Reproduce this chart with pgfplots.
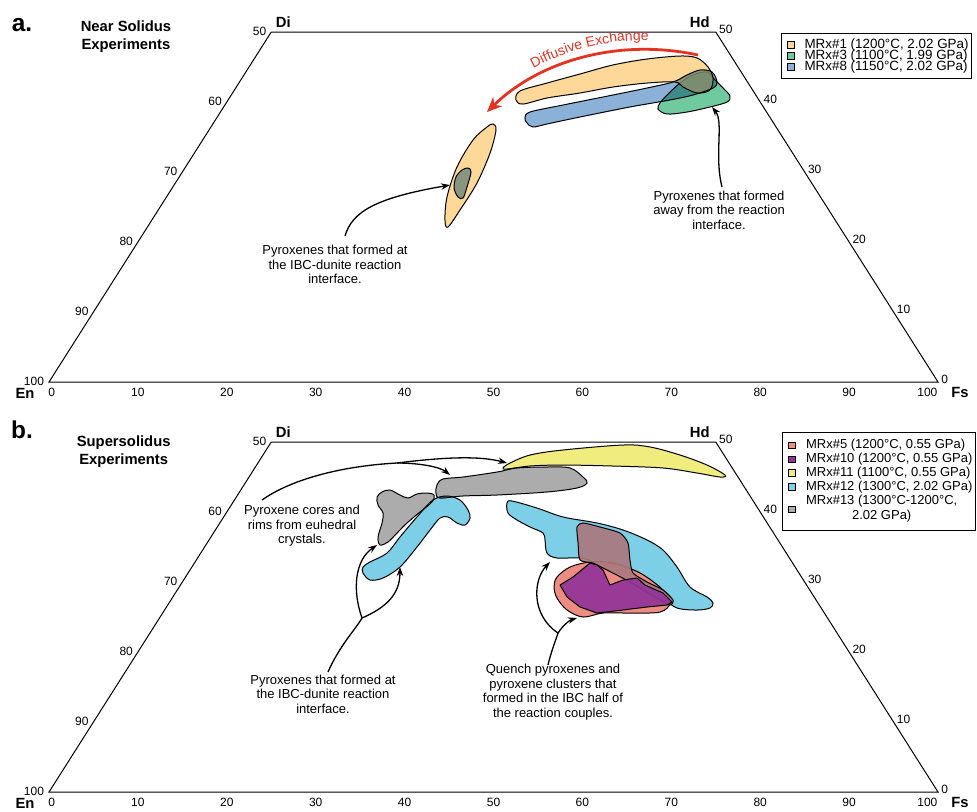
\documentclass[border=0pt]{standalone}
\usepackage{pgfplots}
\pgfplotsset{compat=1.18}
\usepackage{fontspec}
\setmainfont{Liberation Sans}
\usetikzlibrary{arrows.meta,decorations.text}

\definecolor{cOr}{RGB}{253,216,152}
\definecolor{cOrB}{RGB}{253,206,126}
\definecolor{cGr}{RGB}{112,202,160}
\definecolor{cBl}{RGB}{140,177,216}
\definecolor{cSa}{RGB}{238,140,130}
\definecolor{cPu}{RGB}{146,52,152}
\definecolor{cYe}{RGB}{240,236,126}
\definecolor{cCy}{RGB}{124,207,230}
\definecolor{cGy}{RGB}{172,172,172}
\definecolor{cMa}{RGB}{170,120,125}
\definecolor{cRed}{RGB}{228,50,35}

\newcommand{\fs}[1]{\fontsize{#1}{#1}\selectfont}

\pgfplotsset{
  tern/.style={x=4.445pt, y=3.5pt, xmin=0, xmax=100, ymin=0, ymax=50,
    enlargelimits=false, hide axis, clip=false, anchor=south west,
    legend image code/.code={\draw[##1,draw=black,line width=0.4pt] (0pt,-1.6pt) rectangle (3.2pt,1.6pt); \path (-1.6pt,0pt) (8.2pt,0pt);},
    legend style={draw=black, line width=0.5pt, inner xsep=1.4pt,
      cells={anchor=west}, row sep=0pt}},
  blob/.style={draw=black, line width=0.5pt, smooth cycle, tension=0.55, blend mode=multiply, forget plot},
  nblob/.style={draw=black, line width=0.5pt, smooth cycle, tension=0.55, forget plot},
  pblob/.style={draw=black, line width=0.5pt, line join=round, fill opacity=0.92, forget plot},
}
\tikzset{
  lbl/.style={font=\fs{6}, inner sep=0pt},
  llab/.style={lbl, anchor=east, xshift=-2.3pt, yshift=0.5pt},
  rlab/.style={lbl, anchor=west, xshift=1.5pt, yshift=1.5pt},
  blab/.style={lbl, yshift=-5pt},
  corner/.style={font=\bfseries\fs{7.4}, inner sep=0pt},
  ann/.style={font=\fontsize{6.5}{7.25}\selectfont, align=center, inner sep=0pt},
  arr/.style={-{Stealth[length=4.5pt,width=3.2pt]}, line width=0.65pt, black},
}

\newcommand{\ternframe}{%
  \addplot[black, line width=0.5pt, line join=miter, forget plot] coordinates {(25,50) (0,0) (100,0) (75,50) (25,50)};
  \node[llab] at (axis cs:0,0) {100};
  \node[llab] at (axis cs:5,10) {90};
  \node[llab] at (axis cs:10,20) {80};
  \node[llab] at (axis cs:15,30) {70};
  \node[llab] at (axis cs:20,40) {60};
  \node[llab] at (axis cs:25,50) {50};
  \node[rlab] at (axis cs:100,0) {0};
  \node[rlab] at (axis cs:95,10) {10};
  \node[rlab] at (axis cs:90,20) {20};
  \node[rlab] at (axis cs:85,30) {30};
  \node[rlab] at (axis cs:80,40) {40};
  \node[rlab] at (axis cs:75,50) {50};
  \node[blab] at (axis cs:0.3,0) {0};
  \node[blab] at (axis cs:10,0) {10};
  \node[blab] at (axis cs:20,0) {20};
  \node[blab] at (axis cs:30,0) {30};
  \node[blab] at (axis cs:40,0) {40};
  \node[blab] at (axis cs:50,0) {50};
  \node[blab] at (axis cs:60,0) {60};
  \node[blab] at (axis cs:70,0) {70};
  \node[blab] at (axis cs:80,0) {80};
  \node[blab] at (axis cs:90,0) {90};
  \node[blab] at (axis cs:98.8,0) {100};
  \node[corner, xshift=6pt, yshift=5pt] at (axis cs:25,50) {Di};
  \node[corner, xshift=-8pt, yshift=5pt] at (axis cs:75,50) {Hd};
  \node[corner, xshift=-12pt, yshift=-5.5pt] at (axis cs:0,0) {En};
  \node[corner, xshift=11pt, yshift=-5pt] at (axis cs:100,0) {Fs};
}

\begin{document}
\begin{tikzpicture}
\useasboundingbox (0pt,0pt) rectangle (488.5pt,-405.5pt);

% ---------------- panel a ----------------
\begin{axis}[tern, at={(24.5pt,-191pt)},
  legend style={at={(0.823,0.998)}, anchor=north west, font=\fs{6.7}, inner ysep=3pt,
    nodes={inner sep=0pt, text height=4.8pt, text depth=0.7pt}}]
\addlegendimage{fill=cOr}\addlegendentry{MRx\#1 (1200°C, 2.02 GPa)}
\addlegendimage{fill=cGr}\addlegendentry{MRx\#3 (1100°C, 1.99 GPa)}
\addlegendimage{fill=cBl}\addlegendentry{MRx\#8 (1150°C, 2.02 GPa)}

% MRx#3
\addplot[nblob, fill=cGr] coordinates {(68.73,39.86) (69.52,41.0) (70.98,42.71) (72.44,43.86) (74.02,44.29) (74.92,43.14) (75.82,42.0) (76.6,40.86) (76.27,40.0) (74.35,39.29) (71.77,38.57) (69.52,38.29) (68.5,39.0)};
% MRx#1
\addplot[nblob, fill=cOrB, fill opacity=0.8] coordinates {(52.53,40.29) (52.98,41.57) (56.02,42.71) (59.73,44.0) (63.44,45.29) (67.27,46.14) (70.98,46.57) (72.89,46.29) (74.13,45.0) (74.69,43.43) (74.35,41.71) (72.89,41.29) (71.32,42.14) (70.42,42.86) (67.27,42.71) (63.44,42.14) (59.73,41.29) (56.02,40.57) (53.32,39.71)};
\addplot[nblob, fill=cOr] coordinates {(49.94,36.86) (50.28,36.0) (49.61,32.71) (48.14,28.43) (46.23,24.57) (44.88,22.14) (44.54,23.14) (44.77,26.43) (45.89,30.71) (47.69,34.57) (49.27,36.43)};
% MRx#8
\addplot[blob, fill=cBl] coordinates {(53.54,37.71) (54.11,38.57) (57.82,39.57) (63.44,41.0) (67.27,42.0) (70.19,42.86) (71.77,43.86) (73.23,44.57) (74.58,44.29) (75.14,42.86) (74.69,42.0) (72.44,41.0) (69.85,40.29) (65.35,39.29) (59.73,37.86) (56.02,36.86) (54.44,36.43) (53.77,37.0)};
\addplot[blob, fill=cBl] coordinates {(47.13,30.57) (47.47,30.0) (47.02,27.86) (46.57,26.29) (46.01,26.43) (45.56,27.71) (45.78,29.29) (46.46,30.29)};

\ternframe
\node[font=\bfseries\fs{12.2}, inner sep=0pt] at (axis cs:-3.04,51.0) {a.};
\node[font=\bfseries\fontsize{7.4}{9}\selectfont, align=center, inner sep=0pt] at (axis cs:8.66,49.3) {Near Solidus\\Experiments};

\node[ann] at (axis cs:32.17,16.79) {Pyroxenes that formed at\\the IBC-dunite reaction\\interface.};
\node[ann] at (axis cs:75.37,24.57) {Pyroxenes that formed\\away from the reaction\\interface.};
\draw[arr] (axis cs:33.3,20.86) .. controls (axis cs:34.08,24.29) and (axis cs:36.67,26.29) .. (axis cs:45.11,28.14);
\draw[arr] (axis cs:75.7,27.86) .. controls (axis cs:74.8,32.43) and (axis cs:75.93,37.14) .. (axis cs:74.58,39.29);

\draw[cRed, line width=1.4pt, -{Stealth[length=7.5pt,width=6.5pt]}] (axis cs:73.0,46.71) .. controls (axis cs:64.23,49.14) and (axis cs:55.23,46.0) .. (axis cs:49.27,38.57);
\path[decorate, decoration={text along path, text align={left indent=29pt},
  text={|\fs{7}\color{cRed}|Diffusive Exchange}}]
  (axis cs:49.27,39.86) .. controls (axis cs:55.23,47.29) and (axis cs:64.23,50.43) .. (axis cs:73.0,48.0);
\end{axis}

% ---------------- panel b ----------------
\begin{axis}[tern, at={(24.5pt,-396pt)},
  legend style={at={(0.824,1.0286)}, anchor=north west, font=\fs{6.5}, inner ysep=3pt, row sep=0.2pt,
    nodes={inner sep=0.3pt, text height=4.8pt, text depth={}}}]
\addlegendimage{fill=cSa}\addlegendentry{MRx\#5 (1200°C, 0.55 GPa)}
\addlegendimage{fill=cPu}\addlegendentry{MRx\#10 (1200°C, 0.55 GPa)}
\addlegendimage{fill=cYe}\addlegendentry{MRx\#11 (1100°C, 0.55 GPa)}
\addlegendimage{fill=cCy}\addlegendentry{MRx\#12 (1300°C, 2.02 GPa)}
\addlegendimage{fill=cGy}\addlegendentry{\fontsize{6.5}{7.5}\selectfont\begin{tabular}[t]{@{}c@{}}MRx\#13 (1300°C-1200°C,\\2.02 GPa)\end{tabular}}

% MRx#12
\addplot[blob, fill=cCy] coordinates {(35.32,32.14) (36.11,32.86) (38.02,34.14) (39.48,36.43) (41.39,39.29) (43.19,41.71) (44.77,42.29) (46.23,41.71) (47.13,40.29) (47.36,39.14) (46.79,38.14) (45.89,38.43) (44.88,39.29) (43.98,39.14) (42.86,37.43) (41.39,35.0) (39.48,32.14) (37.57,30.57) (36.11,30.29) (35.32,31.29)};
\addplot[blob, fill=cCy] coordinates {(51.52,41.29) (52.08,41.57) (54.89,40.57) (57.82,39.29) (61.64,38.43) (64.57,37.43) (67.27,36.0) (69.07,34.57) (70.64,32.14) (72.1,29.29) (74.02,27.86) (74.69,27.0) (74.35,26.29) (72.89,26.0) (70.64,26.29) (69.07,27.71) (67.27,29.29) (64.57,30.71) (61.64,32.71) (59.73,33.43) (57.14,33.43) (56.02,34.14) (55.79,36.0) (55.57,37.0) (54.11,37.86) (52.64,38.86) (51.63,39.86)};
% MRx#13
\addplot[blob, fill=cGy] coordinates {(36.9,42.14) (37.46,42.86) (38.36,43.14) (39.48,42.43) (40.38,42.0) (41.39,42.57) (42.52,42.71) (43.31,42.43) (43.08,41.43) (41.73,40.0) (40.27,38.43) (39.15,37.0) (38.13,35.71) (37.23,35.29) (37.01,36.43) (37.46,38.43) (37.57,39.86) (37.01,41.0)};
\addplot[blob, fill=cGy] coordinates {(43.64,43.86) (44.32,44.71) (46.57,45.0) (50.39,45.71) (52.64,46.29) (56.02,46.43) (58.61,46.29) (60.07,45.0) (60.52,44.14) (59.39,43.43) (56.02,42.86) (50.39,42.43) (46.57,42.29) (43.98,42.0) (43.53,42.71)};
% MRx#11
\addplot[blob, fill=cYe] coordinates {(51.07,46.29) (51.86,47.0) (54.11,48.14) (57.82,48.86) (64.57,49.57) (67.6,49.29) (70.98,48.14) (74.02,46.71) (76.04,45.29) (75.48,45.0) (72.89,45.57) (69.07,46.29) (63.44,46.57) (57.82,46.71) (54.11,46.57) (51.52,46.14)};
% MRx#5
\addplot[nblob, fill=cSa] coordinates {(57.14,30.71) (58.61,32.14) (60.85,32.86) (63.44,32.71) (66.48,31.29) (69.07,28.86) (69.85,27.0) (68.73,25.71) (65.35,25.57) (62.32,25.57) (60.07,25.0) (58.27,26.0) (57.14,27.71) (56.81,29.29)};
% mauve overlap field
\addplot[nblob, fill=cMa, fill opacity=0.92, tension=0.4] coordinates {(59.39,37.86) (60.07,38.43) (61.98,37.86) (64.23,37.0) (65.13,35.57) (65.35,33.14) (65.69,31.29) (67.27,30.0) (69.07,28.86) (70.19,27.43) (69.85,26.71) (68.39,27.71) (65.35,30.0) (62.77,31.71) (61.19,32.71) (59.73,33.14) (59.51,35.57)};
% MRx#10
\addplot[pblob, fill=cPu] coordinates {(57.48,29.57) (58.94,30.71) (60.85,32.71) (61.64,32.43) (62.32,31.71) (63.1,29.57) (64.57,30.29) (66.14,30.57) (67.04,29.57) (69.07,28.43) (70.08,27.14) (69.52,26.71) (67.27,26.43) (64.57,26.0) (61.64,25.57) (59.73,26.43) (58.27,27.86) (57.48,29.57)};

\ternframe
\node[font=\bfseries\fs{12.2}, inner sep=0pt] at (axis cs:-3.04,51.7) {b.};
\node[font=\bfseries\fontsize{7.4}{9}\selectfont, align=center, inner sep=0pt] at (axis cs:8.4,48.6) {Supersolidus\\Experiments};

\node[ann] at (axis cs:28.46,38.0) {Pyroxene cores and\\rims from euhedral\\crystals.};
\node[ann] at (axis cs:30.82,14.0) {Pyroxenes that formed at\\the IBC-dunite reaction\\interface.};
\node[ann] at (axis cs:56.69,14.29) {Quench pyroxenes and\\pyroxene clusters that\\formed in the IBC half of\\the reaction couples.};

% arrows: cores and rims
\draw[line width=0.65pt] (axis cs:23.96,41.71) .. controls (axis cs:27.11,44.57) and (axis cs:32.73,46.57) .. (axis cs:39.15,47.0);
\draw[arr] (axis cs:39.15,47.0) .. controls (axis cs:43.64,47.71) and (axis cs:48.14,48.14) .. (axis cs:51.52,47.0);
\draw[arr] (axis cs:39.15,47.0) .. controls (axis cs:41.73,47.0) and (axis cs:43.98,46.43) .. (axis cs:45.11,45.29);
% arrows: IBC-dunite interface
\draw[line width=0.65pt] (axis cs:31.38,17.14) .. controls (axis cs:32.73,21.0) and (axis cs:34.42,23.14) .. (axis cs:35.21,24.86);
\draw[arr] (axis cs:35.21,24.86) .. controls (axis cs:34.08,28.86) and (axis cs:34.42,33.14) .. (axis cs:36.9,35.29);
\draw[arr] (axis cs:35.21,24.86) .. controls (axis cs:37.8,26.29) and (axis cs:39.48,28.14) .. (axis cs:39.48,32.14);
% arrows: quench
\draw[line width=0.65pt] (axis cs:56.13,18.14) .. controls (axis cs:56.47,20.0) and (axis cs:56.92,21.43) .. (axis cs:57.26,22.71);
\draw[arr] (axis cs:57.26,22.71) .. controls (axis cs:57.82,23.86) and (axis cs:58.61,24.57) .. (axis cs:59.39,24.86);
\draw[arr] (axis cs:57.26,22.71) .. controls (axis cs:54.2,25.29) and (axis cs:54.44,30.29) .. (axis cs:56.36,32.86);
\end{axis}
\end{tikzpicture}
\end{document}
